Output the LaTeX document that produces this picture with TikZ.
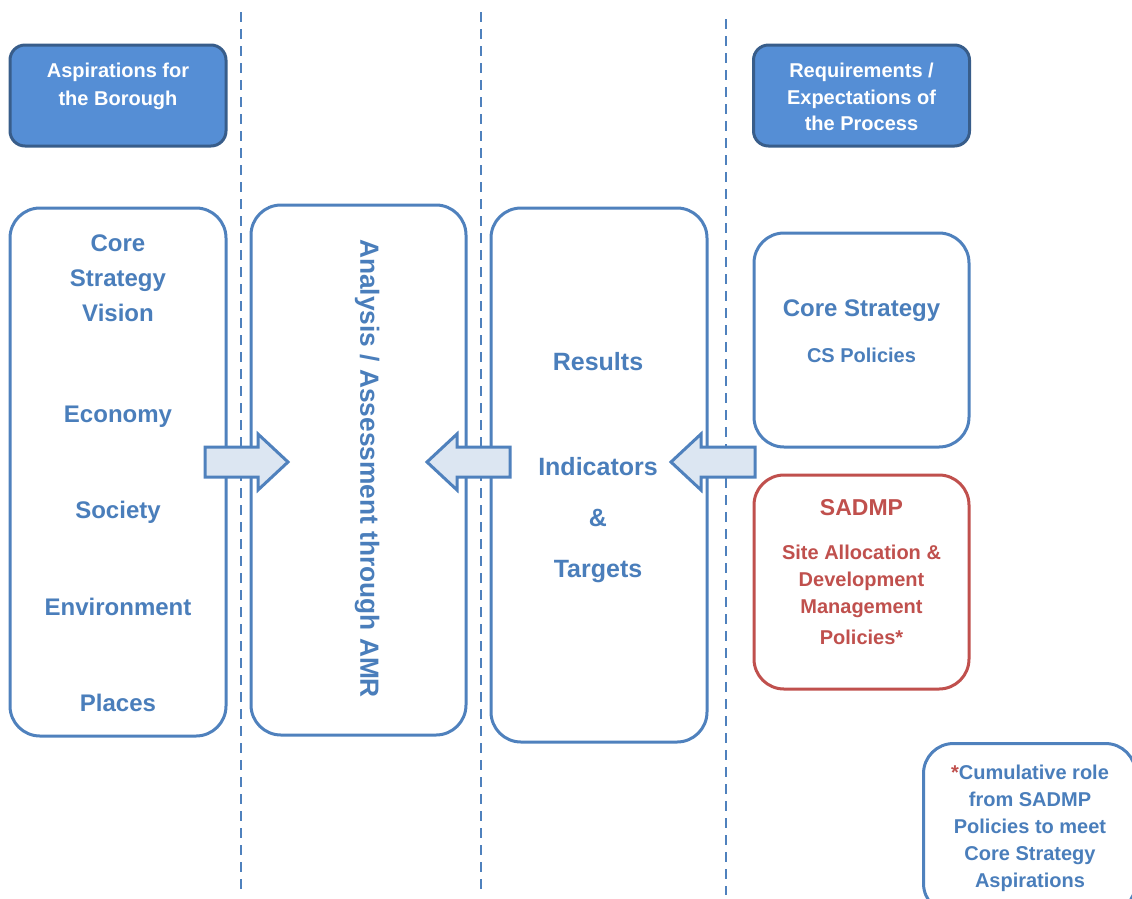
\documentclass[tikz,border=0pt]{standalone}
\usepackage{fontspec}
\setmainfont{Liberation Sans}
\definecolor{bl}{RGB}{79,129,189}
\definecolor{txtbl}{RGB}{74,126,187}
\definecolor{hdfill}{RGB}{85,142,213}
\definecolor{hdline}{RGB}{56,93,138}
\definecolor{rd}{RGB}{192,80,77}
\definecolor{arrfill}{RGB}{220,230,242}
\tikzset{
  hdbox/.style={draw=hdline, fill=hdfill, line width=3pt, rounded corners=15pt, minimum width=216pt, minimum height=101pt, inner sep=0pt},
  mainbox/.style={draw=bl, line width=3pt, rounded corners=30pt, inner sep=0pt},
  redbox/.style={draw=rd, line width=3pt, rounded corners=30pt, inner sep=0pt},
  sep/.style={draw=bl, line width=2.5pt, dash pattern=on 10pt off 7pt},
  hdtxt/.style={text=white, font=\bfseries\fontsize{20}{28}\selectfont, align=center, inner sep=0pt},
  bigtxt/.style={text=txtbl, font=\bfseries\fontsize{24}{35}\selectfont, align=center, inner sep=0pt},
  midtxt/.style={text=txtbl, font=\bfseries\fontsize{20}{27}\selectfont, align=center, inner sep=0pt},
  redtxt/.style={text=rd, font=\bfseries\fontsize{20}{27}\selectfont, align=center, inner sep=0pt},
  blockarrow/.style={draw=bl, fill=arrfill, line width=3pt, line join=miter}
}
\begin{document}
\begin{tikzpicture}[x=1pt,y=-1pt]
\useasboundingbox (0,0) rectangle (1132,898);
% separators
\coordinate (s1t) at (241,12); \coordinate (s1b) at (241,895);
\coordinate (s2t) at (481,12); \coordinate (s2b) at (481,895);
\coordinate (s3t) at (726,19); \coordinate (s3b) at (726,895);
\draw[sep] (s1t) -- (s1b);
\draw[sep] (s2t) -- (s2b);
\draw[sep] (s3t) -- (s3b);
% headers
\node[hdbox] (h1) at (118,95.5) {};
\node[hdtxt] (h1t) at (118,86.5) {Aspirations for\\the Borough};
\node[hdbox] (h2) at (861.5,95.5) {};
\node[hdtxt, font=\bfseries\fontsize{20}{26.5}\selectfont] (h2t) at (861.5,97) {Requirements /\\Expectations of\\the Process};
% box A
\node[mainbox, fill=white, minimum width=216pt, minimum height=528pt] (A) at (118,472) {};
\node[bigtxt, font=\bfseries\fontsize{24}{35}\selectfont] (Av) at (118,278) {Core\\Strategy\\Vision};
\node[bigtxt] (Ae) at (118,417) {Economy};
\node[bigtxt] (As) at (118,512) {Society};
\node[bigtxt] (An) at (118,607) {Environment};
\node[bigtxt] (Ap) at (118,703) {Places};
% box B
\node[mainbox, fill=white, minimum width=215pt, minimum height=530pt] (B) at (358.5,470) {};
\node[bigtxt, font=\bfseries\fontsize{26.3}{30}\selectfont, rotate=-90] (Bt) at (367,468.5) {Analysis / Assessment through AMR};
% box C
\node[mainbox, fill=white, minimum width=216pt, minimum height=534pt] (C) at (599,475) {};
\node[bigtxt, font=\bfseries\fontsize{25}{35}\selectfont] (Cr) at (598,362) {Results};
\node[bigtxt, font=\bfseries\fontsize{25}{35}\selectfont] (Ci) at (598,467) {Indicators};
\node[bigtxt, font=\bfseries\fontsize{25}{35}\selectfont] (Ca) at (598,518) {\&};
\node[bigtxt, font=\bfseries\fontsize{25}{35}\selectfont] (Ct) at (598,572) {Targets};
% box D
\node[mainbox, fill=white, minimum width=215pt, minimum height=214pt] (D) at (861.5,340) {};
\node[bigtxt] (Dt) at (861.5,311) {Core Strategy};
\node[midtxt] (Dp) at (861.5,355) {CS Policies};
% box E
\node[redbox, fill=white, minimum width=215pt, minimum height=214pt] (E) at (861.5,582) {};
\node[redtxt, font=\bfseries\fontsize{23}{27}\selectfont] (Et) at (861.5,508) {SADMP};
\node[redtxt, anchor=north] (Ep) at (861.5,545) {Site Allocation \&\\Development\\Management\\[4pt]Policies*};
% box F
\node[mainbox, fill=white, minimum width=212pt, minimum height=170pt, anchor=north west] (F) at (922,742) {};
\node[midtxt, anchor=north] (Ft) at (1030,765) {\textcolor{rd}{*}Cumulative role\\from SADMP\\Policies to meet\\Core Strategy\\Aspirations};
% block arrows
\draw[blockarrow] (205,447) -- (258,447) -- (258,434) -- (288,462) -- (258,490) -- (258,477) -- (205,477) -- cycle;
\draw[blockarrow] (510,447) -- (457,447) -- (457,434) -- (427,462) -- (457,490) -- (457,477) -- (510,477) -- cycle;
\draw[blockarrow] (755,447) -- (701,447) -- (701,434) -- (671,462) -- (701,490) -- (701,477) -- (755,477) -- cycle;
\end{tikzpicture}
\end{document}
